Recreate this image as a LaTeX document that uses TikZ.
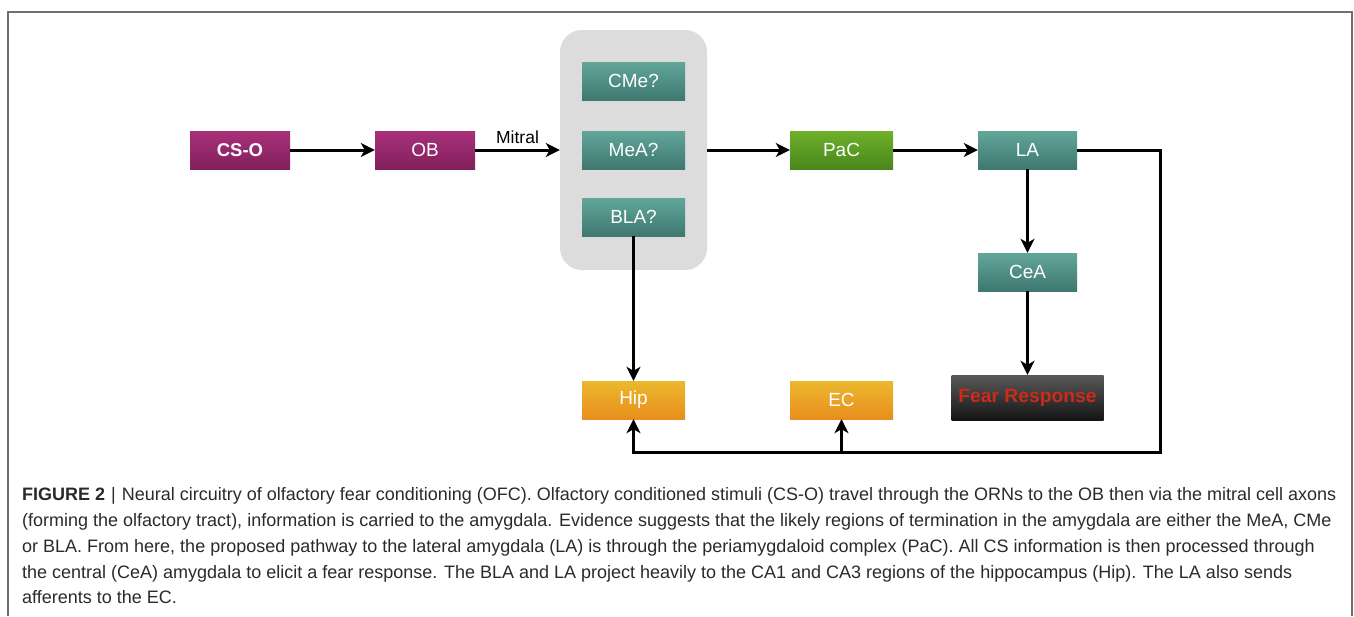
\documentclass[tikz,border=0pt]{standalone}
\usepackage{fontspec}
\setmainfont{Liberation Sans}
\usetikzlibrary{arrows.meta,positioning}
\definecolor{magtop}{HTML}{A8307A}
\definecolor{magbot}{HTML}{82205C}
\definecolor{tealtop}{HTML}{62A69A}
\definecolor{tealbot}{HTML}{3E7870}
\definecolor{greentop}{HTML}{6EB02A}
\definecolor{greenbot}{HTML}{4A861C}
\definecolor{orgtop}{HTML}{ECB82C}
\definecolor{orgbot}{HTML}{E88E1E}
\definecolor{fearred}{HTML}{CC2A1A}
\definecolor{panelgray}{HTML}{DCDCDC}
\definecolor{framegray}{HTML}{6E6E6E}
\definecolor{captext}{HTML}{2A2A2A}
\tikzset{
  >={Stealth[length=14pt,width=14pt,inset=4pt]},
  region/.style ={minimum width=103pt, minimum height=38pt, inner sep=0pt,
                  text=white, font=\fontsize{19}{21}\selectfont},
  cso/.style    ={region, minimum width=100pt, top color=magtop, bottom color=magbot,
                  font=\fontsize{18.5}{20}\selectfont\bfseries},
  mag/.style    ={region, minimum width=100pt, top color=magtop, bottom color=magbot},
  amyg/.style   ={region, top color=tealtop, bottom color=tealbot},
  pyr/.style    ={region, top color=greentop, bottom color=greenbot},
  hipp/.style   ={region, top color=orgtop, bottom color=orgbot},
  fearbox/.style={region, minimum width=152pt, minimum height=45pt, top color=black!65,
                  bottom color=black!92, text=fearred, font=\fontsize{19.3}{21}\selectfont\bfseries},
  panel/.style  ={fill=panelgray, rounded corners=22pt, minimum width=147pt,
                  minimum height=240pt, inner sep=0pt},
  flow/.style   ={->, line width=3pt},
  capline/.style={anchor=base west, inner sep=0pt, text=captext,
                  font=\fontsize{18}{20}\selectfont}
}

\begin{document}
\begin{tikzpicture}[x=1pt, y=-1pt]
\useasboundingbox (0,0) rectangle (1354,616);
\draw[framegray, line width=1.5pt] (8,616) -- (8,12) -- (1352,12) -- (1352,616);

% amygdala panel
\node[panel] (amy) at (633.5,150) {};
\node[amyg] (cme) at (633.5,81)  {CMe?};
\node[amyg] (mea) at (633.5,150) {MeA?};
\node[amyg] (bla) at (633.5,217) {BLA?};

\node[cso]  (cso) at (240,150)    {CS-O};
\node[mag]  (ob)  at (425,150)    {OB};
\node[pyr]  (pac) at (841.5,150)  {PaC};
\node[amyg, minimum width=99pt] (la)  at (1027.5,150) {LA};
\node[amyg, minimum width=99pt] (cea) at (1027.5,272) {CeA};
\node[fearbox] (fear) at (1027.5,397.5) {Fear Response};
\node[hipp] (hip) at (633.5,400)  {Hip};
\node[hipp] (ec)  at (841.5,400)  {EC};

\coordinate (rt) at (1160,452);
\coordinate (ecfoot) at (ec |- rt);

\draw[flow] (cso) -- (ob);
\draw[flow] (ob) -- node[above=1pt, font=\fontsize{17.5}{19}\selectfont] (mitral) {Mitral} (amy);
\draw[flow] (amy) -- (pac);
\draw[flow] (pac) -- (la);
\draw[flow] (la) -- (cea);
\draw[flow] (cea) -- (fear);
\draw[flow] (bla) -- (hip);
\draw[flow] (la.east) -| (rt) -| (hip.south);
\draw[flow] (ecfoot) -- (ec);

% caption
\node[capline] (cap1) at (22,500) {\textbf{FIGURE 2}\,\,|\,\,Neural circuitry of olfactory fear conditioning (OFC). Olfactory conditioned stimuli (CS-O) travel through the ORNs to the OB then via the mitral cell axons};
\node[capline] (cap2) at (22,526) {(forming the olfactory tract), information is carried to the amygdala. Evidence suggests that the likely regions of termination in the amygdala are either the MeA, CMe};
\node[capline] (cap3) at (22,552) {or BLA. From here, the proposed pathway to the lateral amygdala (LA) is through the periamygdaloid complex (PaC). All CS information is then processed through};
\node[capline] (cap4) at (22,578) {the central (CeA) amygdala to elicit a fear response. The BLA and LA project heavily to the CA1 and CA3 regions of the hippocampus (Hip). The LA also sends};
\node[capline] (cap5) at (22,603) {afferents to the EC.};
\end{tikzpicture}
\end{document}
